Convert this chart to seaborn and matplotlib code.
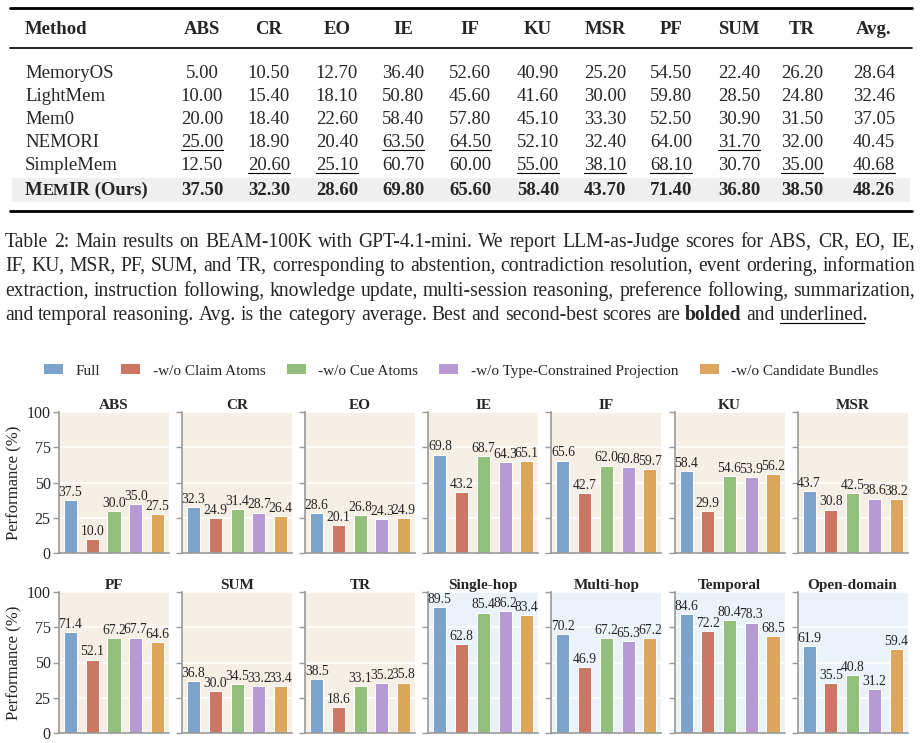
import matplotlib
matplotlib.use('Agg')
import matplotlib.pyplot as plt
import seaborn as sns
import pandas as pd
from matplotlib.patches import Patch, Rectangle
from matplotlib.lines import Line2D

sns.set_theme(style='white')
plt.rcParams['font.family'] = ['Liberation Serif', 'DejaVu Serif']

W, H = 922, 743

# ---------------- table data ----------------
table_cols = ['ABS', 'CR', 'EO', 'IE', 'IF', 'KU', 'MSR', 'PF', 'SUM', 'TR', 'Avg.']
methods = ['MemoryOS', 'LightMem', 'Mem0', 'NEMORI', 'SimpleMem', 'MemIR (Ours)']
memoryos = [5.00, 10.50, 12.70, 36.40, 52.60, 40.90, 25.20, 54.50, 22.40, 26.20, 28.64]
lightmem = [10.00, 15.40, 18.10, 50.80, 45.60, 41.60, 30.00, 59.80, 28.50, 24.80, 32.46]
mem0 = [20.00, 18.40, 22.60, 58.40, 57.80, 45.10, 33.30, 52.50, 30.90, 31.50, 37.05]
nemori = [25.00, 18.90, 20.40, 63.50, 64.50, 52.10, 32.40, 64.00, 31.70, 32.00, 40.45]
simplemem = [12.50, 20.60, 25.10, 60.70, 60.00, 55.00, 38.10, 68.10, 30.70, 35.00, 40.68]
memir = [37.50, 32.30, 28.60, 69.80, 65.60, 58.40, 43.70, 71.40, 36.80, 38.50, 48.26]
table_rows = [memoryos, lightmem, mem0, nemori, simplemem, memir]

caption_lines = [
    "Table 2: Main results on BEAM-100K with GPT-4.1-mini. We report LLM-as-Judge scores for ABS, CR, EO, IE,",
    "IF, KU, MSR, PF, SUM, and TR, corresponding to abstention, contradiction resolution, event ordering, information",
    "extraction, instruction following, knowledge update, multi-session reasoning, preference following, summarization,",
    "and temporal reasoning. Avg. is the category average. Best and second-best scores are bolded and underlined.",
]

# ---------------- chart data ----------------
panels = ['ABS', 'CR', 'EO', 'IE', 'IF', 'KU', 'MSR',
          'PF', 'SUM', 'TR', 'Single-hop', 'Multi-hop', 'Temporal', 'Open-domain']
variants = ['Full', '-w/o Claim Atoms', '-w/o Cue Atoms',
            '-w/o Type-Constrained Projection', '-w/o Candidate Bundles']
full = [37.5, 32.3, 28.6, 69.8, 65.6, 58.4, 43.7, 71.4, 36.8, 38.5, 89.5, 70.2, 84.6, 61.9]
wo_claim = [10.0, 24.9, 20.1, 43.2, 42.7, 29.9, 30.8, 52.1, 30.0, 18.6, 62.8, 46.9, 72.2, 35.5]
wo_cue = [30.0, 31.4, 26.8, 68.7, 62.0, 54.6, 42.5, 67.2, 34.5, 33.1, 85.4, 67.2, 80.4, 40.8]
wo_type = [35.0, 28.7, 24.3, 64.3, 60.8, 53.9, 38.6, 67.7, 33.2, 35.2, 86.2, 65.3, 78.3, 31.2]
wo_cand = [27.5, 26.4, 24.9, 65.1, 59.7, 56.2, 38.2, 64.6, 33.4, 35.8, 83.4, 67.2, 68.5, 59.4]
series = [full, wo_claim, wo_cue, wo_type, wo_cand]
colors = ['#7BA3CB', '#CB7763', '#93BF7D', '#B59AD4', '#DDA65C']
bg_beam = '#F6EFE5'
bg_loco = '#EBF2FA'
n_beam = 10

records = []
for vname, vals in zip(variants, series):
    for p, v in zip(panels, vals):
        records.append({'panel': p, 'variant': vname, 'score': v})
df = pd.DataFrame(records)

fig = plt.figure(figsize=(W / 100, H / 100), dpi=100)
fig.patch.set_facecolor('white')
renderer = fig.canvas.get_renderer()


def fx(x):
    return x / W


def fy(y):
    return 1 - y / H


def text_width(t):
    return t.get_window_extent(renderer=renderer).width


# ---------------- table ----------------
fs_tab = 13.5
col_x = [202, 269, 337, 403, 470, 538, 605, 671, 739, 802, 874]
row_y = [72, 95, 118, 141, 164, 189]
header_y = 28
base_off = 6

fig.add_artist(Rectangle((fx(12), fy(202)), (910 - 12) / W, 24 / H, transform=fig.transFigure,
                         facecolor='#EFEFEF', edgecolor='none', zorder=0))
for y, lw in [(8, 2.0), (48, 1.2), (211, 2.0)]:
    fig.add_artist(Line2D([fx(10), fx(912)], [fy(y), fy(y)], color='black', lw=lw,
                          transform=fig.transFigure))

fig.text(fx(25), fy(header_y + base_off), 'Method', fontsize=fs_tab, fontweight='bold',
         ha='left', va='baseline')
for cx, name in zip(col_x, table_cols):
    fig.text(fx(cx), fy(header_y + base_off), name, fontsize=fs_tab, fontweight='bold',
             ha='center', va='baseline')

# ranking per column
best_idx = []
second_idx = []
for j in range(len(table_cols)):
    col = [r[j] for r in table_rows]
    order = sorted(range(len(col)), key=lambda k: -col[k])
    best_idx.append(order[0])
    second_idx.append(order[1])

for i, (m, vals) in enumerate(zip(methods, table_rows)):
    yb = fy(row_y[i] + base_off)
    if m.startswith('MemIR'):
        x = 25
        t = fig.text(fx(x), yb, 'M', fontsize=fs_tab, fontweight='bold', ha='left', va='baseline')
        x += text_width(t)
        t = fig.text(fx(x), yb, 'EM', fontsize=fs_tab * 0.88, fontweight='bold', ha='left', va='baseline')
        x += text_width(t)
        fig.text(fx(x), yb, 'IR (Ours)', fontsize=fs_tab, fontweight='bold', ha='left', va='baseline')
    else:
        fig.text(fx(25), yb, m, fontsize=fs_tab, ha='left', va='baseline')
    for j, (cx, v) in enumerate(zip(col_x, vals)):
        bold = best_idx[j] == i
        t = fig.text(fx(cx), yb, f'{v:.2f}', fontsize=fs_tab,
                     fontweight='bold' if bold else 'normal', ha='center', va='baseline')
        if second_idx[j] == i:
            w = text_width(t)
            uy = fy(row_y[i] + base_off + 3)
            fig.add_artist(Line2D([fx(cx - w / 2), fx(cx + w / 2)], [uy, uy], color='black',
                                  lw=0.8, transform=fig.transFigure))

# ---------------- caption ----------------
fs_cap = 14.1
cap_left, cap_right = 5, 915
cap_y = [241, 265, 290, 314]
for li, line in enumerate(caption_lines):
    words = line.split(' ')
    yb = fy(cap_y[li] + 6)
    items = []
    for w_ in words:
        weight = 'bold' if w_ == 'bolded' else 'normal'
        t = fig.text(0, yb, w_, fontsize=fs_cap, fontweight=weight, ha='left', va='baseline')
        items.append((t, text_width(t), w_))
    total = sum(it[1] for it in items)
    if li < len(caption_lines) - 1:
        gap = (cap_right - cap_left - total) / (len(items) - 1)
    else:
        t1 = fig.text(0, 0, 'x x', fontsize=fs_cap)
        t2 = fig.text(0, 0, 'xx', fontsize=fs_cap)
        gap = text_width(t1) - text_width(t2)
        t1.remove()
        t2.remove()
    x = cap_left
    for t, w, word in items:
        t.set_x(fx(x))
        if word.startswith('underlined'):
            t2 = fig.text(0, 0, 'underlined', fontsize=fs_cap)
            uw = text_width(t2)
            t2.remove()
            uy = fy(cap_y[li] + 6 + 3)
            fig.add_artist(Line2D([fx(x), fx(x + uw)], [uy, uy], color='black', lw=0.8,
                                  transform=fig.transFigure))
        x += w + gap

# ---------------- legend ----------------
handles = [Patch(facecolor=c, edgecolor='none') for c in colors]
fig.legend(handles, variants, loc='center', bbox_to_anchor=(fx(461), fy(371)), ncol=5,
           frameon=False, fontsize=11, handlelength=1.25, handleheight=0.55,
           handletextpad=0.8, columnspacing=1.4)

# ---------------- bar panels ----------------
ax_w, ax_h = 110, 141
for i, p in enumerate(panels):
    r, c = divmod(i, 7)
    left = 59 + 123.1 * c
    top = 412 if r == 0 else 592
    ax = fig.add_axes([fx(left), fy(top + ax_h), ax_w / W, ax_h / H])
    ax.set_facecolor(bg_beam if i < n_beam else bg_loco)
    sub = df[df['panel'] == p]
    sns.barplot(data=sub, x='variant', y='score', hue='variant', order=variants,
                hue_order=variants, palette=colors, saturation=1, width=0.6,
                legend=False, ax=ax, edgecolor='white', linewidth=0.7)
    for j, vals in enumerate(series):
        v = vals[i]
        ax.text(j, v + 0.8, f'{v:.1f}', ha='center', va='bottom', fontsize=9.8)
    ax.set_ylim(0, 100)
    ax.set_xlim(-0.53, 4.53)
    ax.set_yticks([0, 25, 50, 75, 100])
    ax.set_xticks([])
    ax.set_xlabel('')
    ax.grid(axis='y', color='white', lw=1.2)
    ax.grid(axis='x', visible=False)
    ax.set_axisbelow(True)
    for s in ['top', 'right']:
        ax.spines[s].set_visible(False)
    for s in ['left', 'bottom']:
        ax.spines[s].set_visible(True)
        ax.spines[s].set_color('#9A9A9A')
        ax.spines[s].set_linewidth(1.2)
    ax.tick_params(axis='y', left=True, length=4, width=1, color='#9A9A9A',
                   labelsize=11.5, pad=2)
    ax.set_title(p, fontsize=11, fontweight='bold', pad=2)
    if c == 0:
        ax.set_ylabel('Performance (%)', fontsize=12, labelpad=3)
    else:
        ax.set_ylabel('')
        ax.tick_params(axis='y', labelleft=False)

fig.savefig('out.png', dpi=100, facecolor='white')
